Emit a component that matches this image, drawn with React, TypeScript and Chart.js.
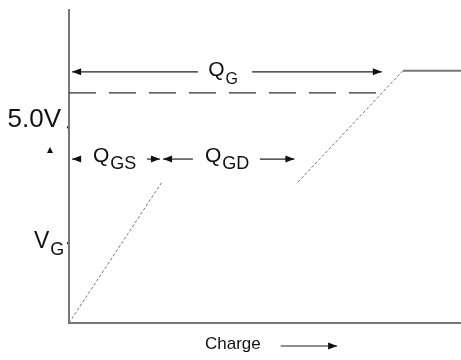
import React, { useEffect, useRef } from "react";
import { Chart, registerables } from "chart.js";

Chart.register(...registerables);

// Gate charge curve (x: charge, arbitrary units; y: gate voltage, V)
const riseX = [0, 2.37];
const riseY = [0, 3.6];
const secondRiseX = [5.84, 8.52];
const secondRiseY = [3.6, 6.45];
const flatX = [8.52, 10];
const flatY = [6.45, 6.45];
const refLineX = [0, 7.93];
const refLineY = [5.88, 5.88];

// Axis labels
const yTickLabel = "5.0V";
const yTickValue = 5.0;
const yAxisLabel = "V";
const yAxisSub = "G";
const xAxisLabel = "Charge";

// Charge interval annotations
const qgLabel = ["Q", "G"];
const qgsLabel = ["Q", "GS"];
const qgdLabel = ["Q", "GD"];

const pts = (xs: number[], ys: number[]) => xs.map((x, i) => ({ x, y: ys[i] }));

const FONT = "'Liberation Sans', Arial, sans-serif";

function arrowHead(ctx: CanvasRenderingContext2D, tipX: number, y: number, dir: number) {
  ctx.beginPath();
  ctx.moveTo(tipX, y);
  ctx.lineTo(tipX - dir * 9, y - 3.5);
  ctx.lineTo(tipX - dir * 9, y + 3.5);
  ctx.closePath();
  ctx.fill();
}

function hLine(ctx: CanvasRenderingContext2D, x1: number, x2: number, y: number) {
  ctx.beginPath();
  ctx.moveTo(x1, y);
  ctx.lineTo(x2, y);
  ctx.stroke();
}

function subText(
  ctx: CanvasRenderingContext2D,
  parts: string[],
  x: number,
  y: number,
  mainSize: number,
  subSize: number,
  subDrop: number
) {
  ctx.textAlign = "left";
  ctx.textBaseline = "alphabetic";
  ctx.font = `${mainSize}px ${FONT}`;
  ctx.fillText(parts[0], x, y);
  const w = ctx.measureText(parts[0]).width;
  ctx.font = `${subSize}px ${FONT}`;
  ctx.fillText(parts[1], x + w + 1, y + subDrop);
}

const annotations = {
  id: "gateAnnotations",
  afterDatasetsDraw(chart: any) {
    const { ctx, scales } = chart;
    const xs = scales.x;
    const ys = scales.y;
    const px = (v: number) => xs.getPixelForValue(v);
    const py = (v: number) => ys.getPixelForValue(v);
    ctx.save();
    ctx.fillStyle = "#111";
    ctx.strokeStyle = "#222";
    ctx.lineWidth = 1.2;

    // Q_G arrow
    const yG = py(6.42);
    hLine(ctx, px(0.08), px(3.29), yG);
    arrowHead(ctx, px(0.08), yG, -1);
    subText(ctx, qgLabel, px(3.55), yG + 4, 21, 16, 8);
    hLine(ctx, px(4.67), px(7.98), yG);
    arrowHead(ctx, px(7.98), yG, 1);

    // Q_GS / Q_GD arrows
    const yS = py(4.19);
    hLine(ctx, px(0.08), px(0.3), yS);
    arrowHead(ctx, px(0.08), yS, -1);
    subText(ctx, qgsLabel, px(0.61), yS + 3, 21, 18, 7);
    hLine(ctx, px(1.99), px(2.32), yS);
    arrowHead(ctx, px(2.32), yS, 1);
    hLine(ctx, px(2.4), px(3.16), yS);
    arrowHead(ctx, px(2.4), yS, -1);
    subText(ctx, qgdLabel, px(3.47), yS + 3, 21, 18, 7);
    hLine(ctx, px(4.87), px(5.75), yS);
    arrowHead(ctx, px(5.75), yS, 1);

    // Y axis labels
    const left = chart.chartArea.left;
    ctx.font = `26px ${FONT}`;
    ctx.textAlign = "right";
    ctx.textBaseline = "alphabetic";
    ctx.fillText(yTickLabel, left - 8, py(yTickValue));
    ctx.fillRect(left - 2, py(yTickValue) - 1, 1, 2);

    // small marker
    const my = py(4.5);
    ctx.beginPath();
    ctx.moveTo(left - 19, my);
    ctx.lineTo(left - 16, my + 6);
    ctx.lineTo(left - 22, my + 6);
    ctx.closePath();
    ctx.fill();

    subText(ctx, [yAxisLabel, yAxisSub], left - 35, py(1.91), 23, 18, 7);
    ctx.fillRect(left - 2, py(2.04) - 1, 1, 2);

    // X axis label + arrow
    const bottom = chart.chartArea.bottom;
    ctx.font = `17px ${FONT}`;
    ctx.textAlign = "left";
    ctx.fillText(xAxisLabel, px(3.47), bottom + 26);
    hLine(ctx, px(5.4), px(6.84), bottom + 23);
    arrowHead(ctx, px(6.84), bottom + 23, 1);

    ctx.restore();
  },
};

export default function App() {
  const ref = useRef<HTMLCanvasElement | null>(null);

  useEffect(() => {
    document.body.style.margin = "0";
    if (!ref.current) return;
    const dotted = { borderColor: "#777", borderWidth: 1, borderDash: [3, 2] };
    const chart = new Chart(ref.current, {
      type: "line",
      data: {
        datasets: [
          { data: pts(riseX, riseY), ...dotted },
          { data: pts(secondRiseX, secondRiseY), ...dotted },
          { data: pts(flatX, flatY), borderColor: "#777", borderWidth: 2 },
          { data: pts(refLineX, refLineY), borderColor: "#333", borderWidth: 1.3, borderDash: [27, 13] },
        ],
      },
      options: {
        animation: false,
        responsive: false,
        parsing: false as any,
        events: [],
        elements: { point: { radius: 0 }, line: { tension: 0 } },
        layout: { padding: { top: 10, right: 0, left: 0, bottom: 0 } },
        plugins: { legend: { display: false }, tooltip: { enabled: false } },
        scales: {
          x: {
            type: "linear",
            min: 0,
            max: 10,
            ticks: { display: false },
            grid: { display: false, drawTicks: false },
            border: { display: true, color: "#777", width: 2 },
            afterFit: (s: any) => {
              s.height = 37;
            },
          },
          y: {
            type: "linear",
            min: 0,
            max: 8,
            ticks: { display: false },
            grid: { display: false, drawTicks: false },
            border: { display: true, color: "#777", width: 2 },
            afterFit: (s: any) => {
              s.width = 69;
            },
          },
        },
      },
      plugins: [annotations],
    });
    return () => chart.destroy();
  }, []);

  return <canvas ref={ref} width={461} height={360} style={{ display: "block" }} />;
}
